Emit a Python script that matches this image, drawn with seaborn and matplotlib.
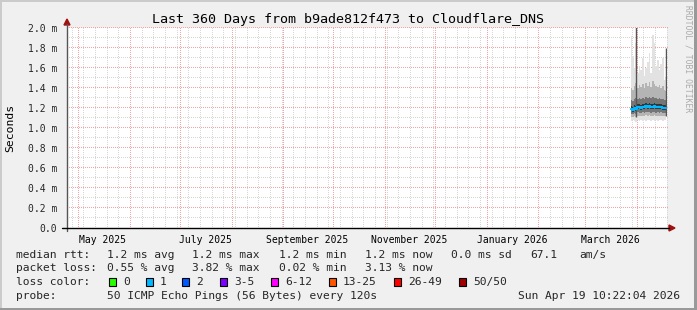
import numpy as np
import pandas as pd
import matplotlib
matplotlib.use("Agg")
import matplotlib.pyplot as plt
import matplotlib.dates as mdates
from matplotlib.lines import Line2D
from matplotlib.patches import Rectangle, Polygon
from matplotlib.transforms import IdentityTransform
import seaborn as sns

# ---------------- data ----------------
dates = pd.date_range("2026-03-29", periods=22, freq="D")
lo  = [1.07,1.08,1.07,1.06,1.08,1.07,1.08,1.07,1.08,1.07,1.08,1.08,1.07,1.08,1.07,1.08,1.07,1.08,1.08,1.07,1.08,1.08]
q10 = [1.11,1.11,1.12,1.11,1.12,1.12,1.12,1.12,1.12,1.13,1.12,1.13,1.12,1.12,1.13,1.12,1.12,1.12,1.12,1.12,1.12,1.12]
q25 = [1.14,1.14,1.15,1.14,1.16,1.15,1.15,1.16,1.15,1.16,1.16,1.16,1.15,1.16,1.16,1.15,1.16,1.15,1.16,1.15,1.15,1.15]
q40 = [1.17,1.16,1.18,1.17,1.19,1.19,1.18,1.19,1.19,1.20,1.19,1.20,1.19,1.19,1.20,1.19,1.19,1.19,1.19,1.18,1.18,1.18]
med = [1.19,1.18,1.20,1.19,1.21,1.21,1.20,1.21,1.21,1.22,1.21,1.22,1.21,1.21,1.22,1.21,1.21,1.21,1.21,1.20,1.20,1.20]
q60 = [1.22,1.21,1.23,1.22,1.24,1.24,1.23,1.24,1.24,1.25,1.24,1.25,1.24,1.24,1.25,1.24,1.24,1.24,1.24,1.23,1.23,1.23]
q75 = [1.28,1.27,1.29,1.30,1.29,1.30,1.29,1.30,1.29,1.31,1.30,1.31,1.30,1.31,1.30,1.30,1.29,1.30,1.29,1.29,1.28,1.28]
q90 = [1.40,1.38,1.42,1.45,1.40,1.43,1.41,1.44,1.40,1.45,1.42,1.46,1.41,1.47,1.44,1.42,1.41,1.43,1.40,1.42,1.38,1.37]
hi  = [1.92,1.72,1.60,1.85,1.55,1.62,1.58,1.70,1.52,1.60,1.66,1.75,1.55,1.93,1.85,1.62,1.68,1.58,1.64,1.70,1.48,1.50]
spike = [np.nan,np.nan,np.nan,2.10,np.nan,np.nan,np.nan,np.nan,np.nan,np.nan,np.nan,
         np.nan,np.nan,np.nan,np.nan,np.nan,np.nan,np.nan,np.nan,np.nan,np.nan,1.80]

yticks = [0.0, 0.2, 0.4, 0.6, 0.8, 1.0, 1.2, 1.4, 1.6, 1.8, 2.0]
ytick_labels = ["0.0", "0.2 m", "0.4 m", "0.6 m", "0.8 m", "1.0 m", "1.2 m",
                "1.4 m", "1.6 m", "1.8 m", "2.0 m"]
month_labels = ["May 2025", "July 2025", "September 2025", "November 2025",
                "January 2026", "March 2026"]
month_label_pos = ["2025-05-16", "2025-07-16 12:00", "2025-09-15 12:00",
                   "2025-11-15 12:00", "2026-01-16 12:00", "2026-03-16 12:00"]

title = "Last 360 Days from b9ade812f473 to Cloudflare_DNS"
rtt_stats = ["1.2 ms avg", "1.2 ms max", "1.2 ms min", "1.2 ms now", "0.0 ms sd", "67.1", "am/s"]
loss_stats = ["0.55 % avg", "3.82 % max", "0.02 % min", "3.13 % now"]
loss_labels = ["0", "1", "2", "3-5", "6-12", "13-25", "26-49", "50/50"]
loss_colors = ["#26ff00", "#00b8ff", "#0059ff", "#7e00ff", "#ff00ff", "#ff5500", "#ff0000", "#a10000"]
probe_text = "50 ICMP Echo Pings (56 Bytes) every 120s"
date_text = "Sun Apr 19 10:22:04 2026"

# ---------------- style ----------------
sns.set_style("white")
plt.rcParams["font.family"] = ["DejaVu Sans Mono"]

W, H = 697, 310
fig = plt.figure(figsize=(W / 100, H / 100), dpi=100)
fig.patch.set_facecolor("#f0f0f0")

def fx(px):
    return px / W

def fy(py):
    return 1 - py / H

L, R, T, B = 67, 667, 28, 228
ax = fig.add_axes([fx(L), fy(B), (R - L) / W, (B - T) / H])
ax.set_facecolor("white")

t0 = pd.Timestamp("2025-04-24 10:22:04")
t1 = pd.Timestamp("2026-04-19 10:22:04")
ax.set_xlim(t0, t1)
ax.set_ylim(0, 2.0)

# grid as pixel dots (rrdtool style): weekly minor (Sundays), monthly major
sundays = pd.date_range("2025-04-27", t1, freq="7D")
months = pd.date_range("2025-05-01", t1, freq="MS")
month_days = set(d.date() for d in months)
ident = IdentityTransform()
xs_h = np.arange(L + 1, R, 2) + 0.5
ys_v = np.arange(H - B + 1, H - T, 2) + 0.5

def hdots(v, color, z):
    yd = ax.transData.transform((mdates.date2num(t0), v))[1]
    yd = np.floor(yd) + 0.5
    ax.plot(xs_h, np.full_like(xs_h, yd), ",", color=color, transform=ident,
            zorder=z, clip_on=False)

def vdots(d, color, z):
    xd = ax.transData.transform((mdates.date2num(d), 0))[0]
    xd = np.floor(xd) + 0.5
    ax.plot(np.full_like(ys_v, xd), ys_v, ",", color=color, transform=ident,
            zorder=z, clip_on=False)

for d in sundays:
    if d.date() not in month_days:
        vdots(d, "#d6d6d6", 0.2)
for v in np.arange(0.1, 2.0, 0.2):
    hdots(v, "#d6d6d6", 0.2)
for d in months:
    vdots(d, "#f7a3a3", 0.5)
for v in yticks[1:]:
    hdots(v, "#f7a3a3", 0.5)

# smoke
ax.fill_between(dates, lo, hi, step="mid", color="#e2e2e2", lw=0, zorder=2)
ax.fill_between(dates, q10, q90, step="mid", color="#b4b4b4", lw=0, zorder=2)
ax.fill_between(dates, q25, q75, step="mid", color="#767676", lw=0, zorder=2)
ax.fill_between(dates, q40, q60, step="mid", color="#333333", lw=0, zorder=2)
ax.vlines(dates, q10, spike, color="#555555", lw=1.0, zorder=3)

df = pd.DataFrame({"date": dates, "median": med})
sns.lineplot(data=df, x="date", y="median", ax=ax, color="#00b8ff", lw=1.6,
             drawstyle="steps-mid", zorder=4)

ax.set_xlabel("")
ax.set_ylabel("")
for s in ax.spines.values():
    s.set_visible(False)

ax.set_yticks(yticks)
ax.set_yticklabels(ytick_labels, fontsize=7)
ax.set_yticks(np.arange(0.1, 2.0, 0.2), minor=True)
ax.tick_params(axis="y", which="major", length=3, width=0.7, color="#888888", pad=4)
ax.tick_params(axis="y", which="minor", length=2, width=0.7, color="#aaaaaa")
ax.set_xticks(months)
ax.set_xticklabels([""] * len(months))
ax.tick_params(axis="x", which="major", length=3, width=0.7, color="#666666")
for lab, pos in zip(month_labels, month_label_pos):
    ax.text(pd.Timestamp(pos), -0.035, lab, transform=ax.get_xaxis_transform(),
            ha="center", va="top", fontsize=7, color="black")

# axes lines & arrows
fig.add_artist(Line2D([fx(L), fx(L)], [fy(B + 3), fy(24)], color="#555555", lw=1.0))
fig.add_artist(Line2D([fx(L - 5), fx(669)], [fy(B), fy(B)], color="black", lw=1.0))
fig.add_artist(Polygon([[fx(L - 3), fy(25)], [fx(L + 3), fy(25)], [fx(L), fy(19)]],
                       closed=True, color="#a01010"))
fig.add_artist(Polygon([[fx(669), fy(B - 3)], [fx(669), fy(B + 3)], [fx(675), fy(B)]],
                       closed=True, color="#a01010"))

# title, labels, watermark
fig.text(fx(348), fy(19), title, ha="center", va="center", fontsize=9.6, color="black")
fig.text(fx(10), fy(128), "Seconds", rotation=90, ha="center", va="center",
         fontsize=8.2, color="black")
fig.text(fx(688), fy(5), "RRDTOOL / TOBI OETIKER", rotation=270, ha="center", va="top",
         fontsize=5.8, color="#aaaaaa")

# legend
fs = 8.1
rows = [255, 268, 282, 296]
fig.text(fx(16), fy(rows[0]), "median rtt:", fontsize=fs, va="center")
for s, x in zip(rtt_stats, [107, 192, 279, 365, 451, 530, 579]):
    fig.text(fx(x), fy(rows[0]), s, fontsize=fs, va="center")
fig.text(fx(16), fy(rows[1]), "packet loss:", fontsize=fs, va="center")
for s, x in zip(loss_stats, [107, 192, 279, 365]):
    fig.text(fx(x), fy(rows[1]), s, fontsize=fs, va="center")
fig.text(fx(16), fy(rows[2]), "loss color:", fontsize=fs, va="center")
box_x = [109, 146, 182, 220, 271, 329, 394, 459]
for lab, col, x in zip(loss_labels, loss_colors, box_x):
    fig.add_artist(Rectangle((fx(x), fy(rows[2] + 4)), 7 / W, 8 / H,
                             facecolor=col, edgecolor="black", lw=0.8))
    fig.text(fx(x + 14), fy(rows[2]), lab, fontsize=fs, va="center")
fig.text(fx(16), fy(rows[3]), "probe:", fontsize=fs, va="center")
fig.text(fx(107), fy(rows[3]), probe_text, fontsize=fs, va="center")
fig.text(fx(680), fy(rows[3]), date_text, fontsize=fs, va="center", ha="right")

# 3D frame
fig.add_artist(Rectangle((0, 0), 1, 2 / H, facecolor="#999999", lw=0))
fig.add_artist(Rectangle((1 - 3 / W, 0), 3 / W, 1, facecolor="#999999", lw=0))
fig.add_artist(Rectangle((0, 1 - 2 / H), 1 - 3 / W, 2 / H, facecolor="#cbcbcb", lw=0))
fig.add_artist(Rectangle((0, 2 / H), 2 / W, 1 - 4 / H, facecolor="#cbcbcb", lw=0))

fig.savefig("out.png", dpi=100, facecolor=fig.get_facecolor())
